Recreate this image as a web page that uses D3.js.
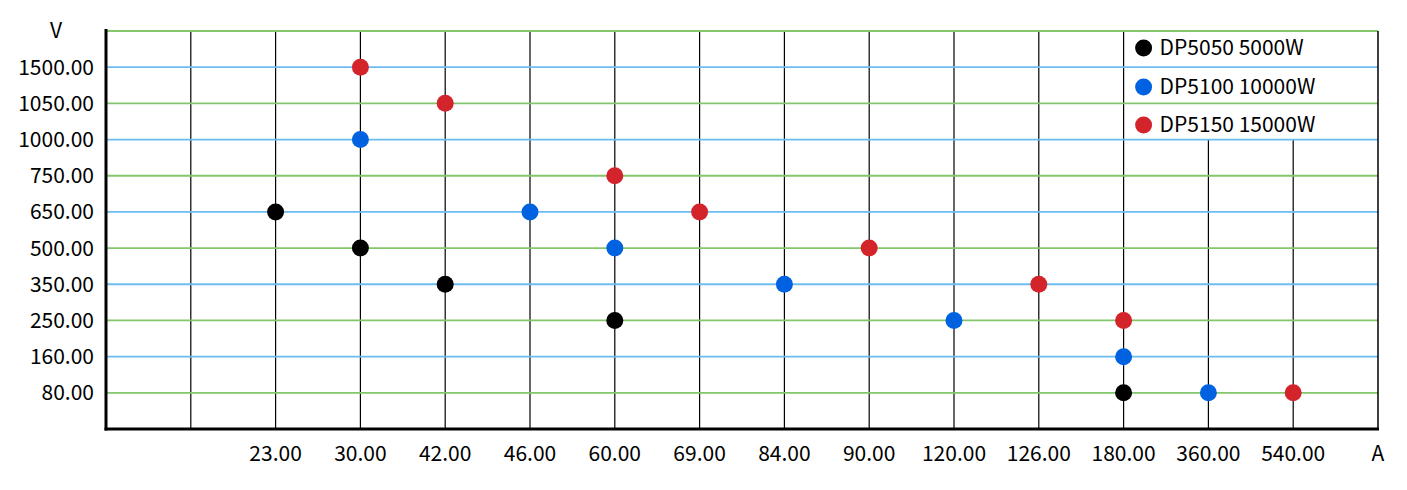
<!DOCTYPE html>
<html>
<head>
<meta charset="utf-8">
<script src="https://cdn.jsdelivr.net/npm/d3@7"></script>
<style>
  body { margin: 0; background: #fff; }
  text { font-family: "Noto Sans CJK SC", "Noto Sans", sans-serif; fill: #000; }
</style>
</head>
<body>
<svg id="chart" width="1407" height="490"></svg>
<script>
// ---- data ----
const xCategories = ["0", " ", "23.00", "30.00", "42.00", "46.00", "60.00", "69.00", "84.00", "90.00", "120.00", "126.00", "180.00", "360.00", "540.00", "A"];
const xTickLabels = ["23.00", "30.00", "42.00", "46.00", "60.00", "69.00", "84.00", "90.00", "120.00", "126.00", "180.00", "360.00", "540.00"];
const yCategories = ["0", "80.00", "160.00", "250.00", "350.00", "500.00", "650.00", "750.00", "1000.00", "1050.00", "1500.00", "V"];
const yTickLabels = ["80.00", "160.00", "250.00", "350.00", "500.00", "650.00", "750.00", "1000.00", "1050.00", "1500.00"];

const seriesNames = ["DP5050 5000W", "DP5100 10000W", "DP5150 15000W"];
const seriesColors = ["#000000", "#0062e0", "#d3232b"];

const dp5050Current = ["23.00", "30.00", "42.00", "60.00", "180.00"];
const dp5050Voltage = ["650.00", "500.00", "350.00", "250.00", "80.00"];
const dp5100Current = ["30.00", "46.00", "60.00", "84.00", "120.00", "180.00", "360.00"];
const dp5100Voltage = ["1000.00", "650.00", "500.00", "350.00", "250.00", "160.00", "80.00"];
const dp5150Current = ["30.00", "42.00", "60.00", "69.00", "90.00", "126.00", "180.00", "540.00"];
const dp5150Voltage = ["1500.00", "1050.00", "750.00", "650.00", "500.00", "350.00", "250.00", "80.00"];

const seriesCurrent = [dp5050Current, dp5100Current, dp5150Current];
const seriesVoltage = [dp5050Voltage, dp5100Voltage, dp5150Voltage];

// ---- layout ----
const svg = d3.select("#chart");
const plotLeft = 106, plotRight = 1378, plotTop = 31, plotBottom = 429;
const fontSize = 21;

const x = d3.scalePoint().domain(xCategories).range([plotLeft, plotRight]).padding(0);
const y = d3.scalePoint().domain(yCategories).range([plotBottom, plotTop]).padding(0);

const green = "#83c66c", blue = "#6cbcf0";

// vertical grid lines
const legendLeft = x("180.00");
const legendBottom = y("1000.00");
svg.append("g").selectAll("line")
  .data(xCategories.slice(1, -1))
  .join("line")
  .attr("x1", d => x(d)).attr("x2", d => x(d))
  .attr("y1", d => x(d) > legendLeft ? legendBottom : plotTop)
  .attr("y2", plotBottom)
  .attr("stroke", "#000").attr("stroke-width", 1.2);

// horizontal grid lines
svg.append("g").selectAll("line")
  .data(yCategories.slice(1))
  .join("line")
  .attr("x1", plotLeft).attr("x2", plotRight)
  .attr("y1", d => y(d)).attr("y2", d => y(d))
  .attr("stroke", d => yCategories.indexOf(d) % 2 === 1 ? green : blue)
  .attr("stroke-width", 1.8);

// right border
svg.append("line")
  .attr("x1", x("A")).attr("x2", x("A"))
  .attr("y1", plotTop).attr("y2", plotBottom)
  .attr("stroke", "#000").attr("stroke-width", 1.5);

// axes lines
svg.append("line")
  .attr("x1", plotLeft).attr("x2", plotLeft)
  .attr("y1", plotTop - 2).attr("y2", plotBottom + 1.5)
  .attr("stroke", "#000").attr("stroke-width", 3);
svg.append("line")
  .attr("x1", plotLeft - 1.5).attr("x2", plotRight + 1)
  .attr("y1", plotBottom).attr("y2", plotBottom)
  .attr("stroke", "#000").attr("stroke-width", 3);

// y tick labels
svg.append("g").selectAll("text")
  .data(yTickLabels)
  .join("text")
  .attr("x", 94).attr("y", d => y(d))
  .attr("dy", "0.36em")
  .attr("text-anchor", "end")
  .attr("font-size", fontSize)
  .text(d => d);

// x tick labels
svg.append("g").selectAll("text")
  .data(xTickLabels)
  .join("text")
  .attr("x", d => x(d)).attr("y", 453)
  .attr("dy", "0.36em")
  .attr("text-anchor", "middle")
  .attr("font-size", fontSize)
  .text(d => d);

// axis titles
svg.append("text").attr("x", 56).attr("y", y("V") - 1).attr("dy", "0.36em")
  .attr("text-anchor", "middle").attr("font-size", fontSize).text("V");
svg.append("text").attr("x", x("A")).attr("y", 453).attr("dy", "0.36em")
  .attr("text-anchor", "middle").attr("font-size", fontSize).text("A");

// points
seriesNames.forEach((name, i) => {
  const pts = seriesCurrent[i].map((c, j) => ({ c, v: seriesVoltage[i][j] }));
  svg.append("g").selectAll("circle")
    .data(pts)
    .join("circle")
    .attr("cx", d => x(d.c))
    .attr("cy", d => y(d.v))
    .attr("r", 8.5)
    .attr("fill", seriesColors[i]);
});

// legend
const legendRows = [48, 87, 125];
const lg = svg.append("g");
seriesNames.forEach((name, i) => {
  lg.append("circle").attr("cx", legendLeft + 20).attr("cy", legendRows[i])
    .attr("r", 8.5).attr("fill", seriesColors[i]);
  lg.append("text").attr("x", legendLeft + 36).attr("y", legendRows[i] - 1)
    .attr("dy", "0.36em").attr("font-size", fontSize).text(name);
});
</script>
</body>
</html>
